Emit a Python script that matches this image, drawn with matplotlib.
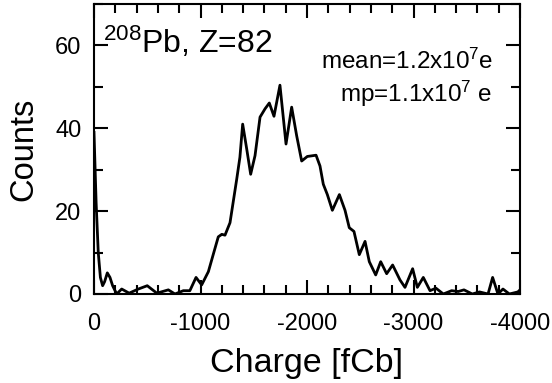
import matplotlib
matplotlib.use("Agg")
import matplotlib.pyplot as plt
from matplotlib.ticker import MultipleLocator

plt.rcParams['font.family'] = ['Liberation Sans', 'DejaVu Sans']
plt.rcParams['mathtext.fontset'] = 'custom'
plt.rcParams['mathtext.rm'] = 'Liberation Sans'
plt.rcParams['mathtext.it'] = 'Liberation Sans'
plt.rcParams['axes.unicode_minus'] = False

charge = [0, -20, -40, -60, -81, -100, -125, -150, -175, -213, -260, -330, -416,
          -500, -590, -698, -760, -839, -900, -958, -1011, -1074, -1117, -1167,
          -1200, -1230, -1277, -1340, -1370, -1396, -1434, -1471, -1512, -1559,
          -1606, -1646, -1690, -1746, -1803, -1856, -1903, -1950, -2003, -2085,
          -2122, -2153, -2191, -2238, -2304, -2357, -2397, -2441, -2491, -2545,
          -2585, -2645, -2692, -2748, -2804, -2873, -2920, -2992, -3036, -3092,
          -3155, -3211, -3280, -3358, -3420, -3474, -3552, -3620, -3700, -3743,
          -3793, -3840, -3900, -3980, -4000]
counts = [39, 22, 10, 4, 2, 3, 5.1, 4, 2, 0, 1.2, 0.2, 1.2,
          2, 0.2, 1, 0, 0.8, 0.8, 4, 2.2, 5.4, 9.3, 13.8,
          14.4, 14.2, 17.2, 27.7, 33, 41, 35, 28.9, 33.4, 42.7,
          44.7, 46.1, 42.9, 50.4, 36.2, 45.1, 38.2, 32.1, 33.2, 33.5,
          30.9, 26.5, 24, 20.2, 24, 20.2, 16, 15.1, 9.5, 12.7,
          7.8, 4.6, 7.8, 4.9, 7, 3.4, 1.6, 6.1, 1.6, 4,
          0.8, 1.4, 0, 0.8, 0.6, 1, 0, 0.5, 0, 4,
          0, 1.2, 0, 0.5, 1]

fig = plt.figure(figsize=(5.52, 3.83), dpi=100)
ax = fig.add_axes([94/552, 1-294/383, 426/552, 290/383])

ax.plot(charge, counts, color='black', lw=2.0, solid_joinstyle='round')

ax.set_xlim(0, -4000)
ax.set_ylim(0, 70)
ax.xaxis.set_major_locator(MultipleLocator(1000))
ax.xaxis.set_minor_locator(MultipleLocator(200))
ax.yaxis.set_major_locator(MultipleLocator(20))
ax.yaxis.set_minor_locator(MultipleLocator(10))
ax.tick_params(which='both', direction='in', top=True, right=True, width=1.5,
               labelsize=17)
ax.tick_params(which='major', length=10)
ax.tick_params(which='minor', length=6.5)
ax.tick_params(axis='x', which='major', pad=14)
ax.tick_params(axis='y', which='major', pad=9)
for s in ax.spines.values():
    s.set_linewidth(1.5)

ax.set_xlabel('Charge [fCb]', fontsize=24.5, labelpad=9)
ax.set_ylabel('Counts', fontsize=23.5, labelpad=11)

ax.text(0.021, 0.831, r'$^{208}$Pb, Z=82', transform=ax.transAxes,
        fontsize=23, ha='left', va='baseline')
ax.text(0.937, 0.776, r'mean=1.2x10$^{7}$e', transform=ax.transAxes,
        fontsize=17.5, ha='right', va='baseline')
ax.text(0.934, 0.662, r'mp=1.1x10$^{7}$ e', transform=ax.transAxes,
        fontsize=17.5, ha='right', va='baseline')

fig.savefig('out.png', dpi=100)
